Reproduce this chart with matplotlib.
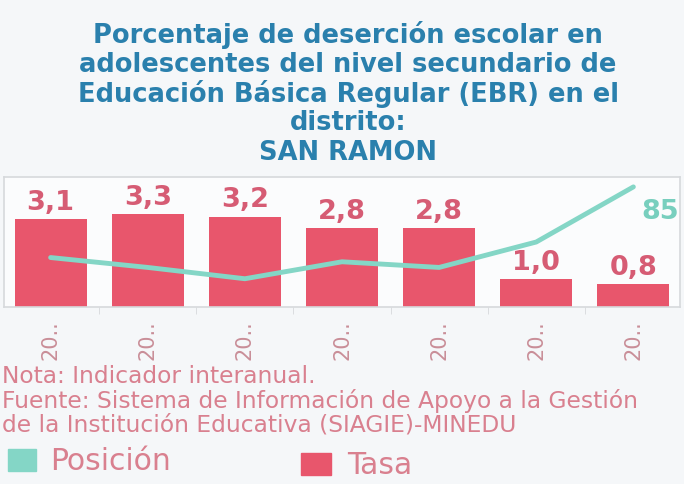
import matplotlib
matplotlib.use("Agg")
import matplotlib.pyplot as plt
from matplotlib.patches import Rectangle

# data
years = ["20..", "20..", "20..", "20..", "20..", "20..", "20.."]
tasa = [3.1, 3.3, 3.2, 2.8, 2.8, 1.0, 0.8]
posicion = [35, 28, 20, 32, 28, 46, 85]

title_lines = [
    "Porcentaje de deserción escolar en",
    "adolescentes del nivel secundario de",
    "Educación Básica Regular (EBR) en el",
    "distrito:",
    "SAN RAMON",
]
notes = [
    "Nota: Indicador interanual.",
    "Fuente: Sistema de Información de Apoyo a la Gestión",
    "de la Institución Educativa (SIAGIE)-MINEDU",
]

# palette
BG = "#f5f7f9"
TITLE = "#2a80ad"
BAR = "#e8566c"
BAR_LBL = "#d65c74"
LINE = "#84d6c6"
LINE_LBL = "#78cfbe"
NOTE = "#d9808f"
TICK = "#c98e98"
FRAME = "#d6d9dc"

plt.rcParams["font.family"] = ["DejaVu Sans"]

W, H = 684, 485
fig = plt.figure(figsize=(W / 100, H / 100), dpi=100, facecolor=BG)


def fx(px):
    return px / W


def fy(py):
    return 1 - py / H


# title
for i, line in enumerate(title_lines):
    fig.text(fx(348), fy(35 + i * 29.5), line, ha="center", va="center",
             fontsize=18.5, fontweight="bold", color=TITLE)

# chart area (pixel box: x 4..680, y 178..308)
ax = fig.add_axes([fx(4), fy(308), fx(676), (308 - 178) / H])
ax.set_facecolor("#fbfcfd")
x = list(range(len(tasa)))
bars = ax.bar(x, tasa, width=0.74, color=BAR, zorder=2)
ax.set_xlim(-0.48, len(tasa) - 0.52)
ax.set_ylim(0, 4.6)
ax.set_yticks([])
ax.set_xticks(x)
ax.set_xticklabels(years, rotation=90, fontsize=15, color=TICK)
ax.tick_params(axis="x", which="major", length=0, pad=9)
ax.set_xticks([i + 0.5 for i in x[:-1]], minor=True)
ax.tick_params(axis="x", which="minor", length=5, color=FRAME)
for s in ax.spines.values():
    s.set_color(FRAME)
    s.set_linewidth(1.2)

for b, v in zip(bars, tasa):
    ax.annotate(f"{v:.1f}".replace(".", ","), (b.get_x() + b.get_width() / 2, v),
                xytext=(0, 3), textcoords="offset points", ha="center",
                va="bottom", fontsize=19.5, fontweight="bold", color=BAR_LBL)

ax2 = ax.twinx()
ax2.set_ylim(0, 92)
ax2.set_yticks([])
for s in ax2.spines.values():
    s.set_visible(False)
ax2.plot(x, posicion, color=LINE, lw=3.5, solid_capstyle="round", zorder=3)
ax2.annotate(str(posicion[-1]), (x[-1], posicion[-1]), xytext=(19, -17),
             textcoords="offset points", ha="center", va="center",
             fontsize=19.5, fontweight="bold", color=LINE_LBL)

# notes
for i, line in enumerate(notes):
    fig.text(fx(2), fy(377 + i * 24), line, ha="left", va="center",
             fontsize=16.8, color=NOTE)

# legend
fig.patches.append(Rectangle((fx(8), fy(472)), fx(28), 22 / H,
                             transform=fig.transFigure, color=LINE))
fig.text(fx(50), fy(462), "Posición", ha="left", va="center",
         fontsize=21.5, color=NOTE)
fig.patches.append(Rectangle((fx(301), fy(476)), fx(30), 22 / H,
                             transform=fig.transFigure, color=BAR))
fig.text(fx(347), fy(466), "Tasa", ha="left", va="center",
         fontsize=21.5, color=NOTE)

fig.savefig("out.png", dpi=100, facecolor=BG)
